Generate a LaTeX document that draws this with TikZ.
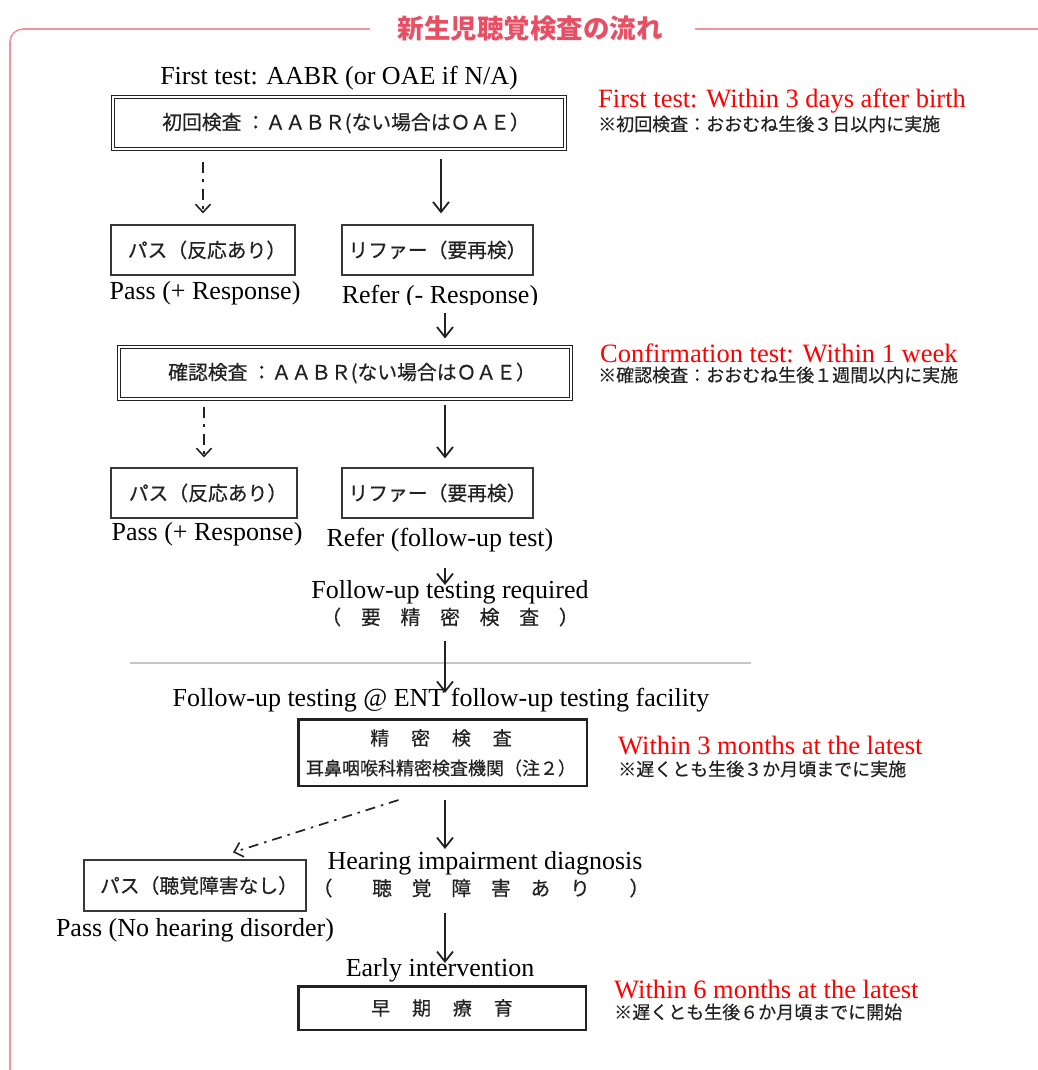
\documentclass[tikz,border=0pt]{standalone}
\usepackage{fontspec}
\setmainfont{Liberation Serif}
\newfontfamily\jp[FakeBold=0.5]{Noto Sans CJK JP}
\newfontfamily\jptitle{Noto Sans CJK JP}
\usetikzlibrary{arrows.meta,calc}
\definecolor{framepink}{HTML}{F2939D}
\definecolor{titlepink}{HTML}{E94F64}
\definecolor{ink}{HTML}{222222}
\newcommand{\jsp}{\hspace{1.15em}}
\tikzset{
  en/.style={font=\fontsize{26}{28}\selectfont, inner sep=0pt, text=black},
  redtxt/.style={font=\fontsize{26.5}{28}\selectfont, inner sep=0pt, text=red, anchor=west},
  jpt/.style={font=\jp\fontsize{19.8}{21}\selectfont, inner sep=0pt, text=ink},
  note/.style={font=\jp\fontsize{18}{19}\selectfont, inner sep=0pt, text=ink, anchor=west},
  dbox/.style={draw=ink, double, double distance=1.8pt, line width=1.1pt, minimum width=452pt, minimum height=52pt, inner sep=0pt},
  sbox/.style={draw=ink!90, line width=1.2pt, minimum height=50pt, inner sep=0pt},
  tbox/.style={draw=ink, line width=2.5pt, inner sep=0pt},
  arr/.style={-{Straight Barb[length=10pt,width=16pt,line width=1.8pt]}, line width=1.8pt, draw=ink},
  dsh/.style={-{Straight Barb[length=8pt,width=15pt,line width=1.6pt]}, line width=1.7pt, draw=ink, dash pattern=on 11pt off 6pt on 3pt off 7pt},
}
\begin{document}
\begin{tikzpicture}[x=1pt,y=-1pt]
\useasboundingbox (0,0) rectangle (1037,1070);
% frame and title
\node[font=\jptitle\bfseries\fontsize{26.5}{28}\selectfont, text=titlepink, inner sep=0pt] (title) at (530,29) {新生児聴覚検査の流れ};
\draw[framepink, line width=1.6pt, rounded corners=13pt] (370,29) -- (10,29) -- (10,1072);
\draw[framepink, line width=1.6pt] (695,29) -- (1039,29);
\coordinate (spine) at (445,0);

% first test
\node[en] (lab1) at (339,78) {First test: AABR (or OAE if N/A)};
\node[dbox, jpt] (box1) at (339,123) {\hspace{14pt}初回検査 ：ＡＡＢＲ(ない場合はＯＡＥ）};
\node[redtxt] (red1) at (598,101) {First test: Within 3 days after birth};
\node[note] (note1) at (598,124) {※初回検査：おおむね生後３日以内に実施};

\node[sbox, jpt, minimum width=184pt] (pass1) at (203,250) {\hspace{8pt}パス（反応あり）};
\node[sbox, jpt, minimum width=191pt] (refer1) at (437.5,250) {リファー（要再検）};
\node[en] (lpass1) at (205,293) {Pass (+ Response)};
\begin{scope}
\clip (300,270) rectangle (600,304);
\node[en] (lrefer1) at (440,297) {Refer (- Response)};
\end{scope}
\draw[dsh, shorten <=12pt, shorten >=11pt] (box1.south -| pass1.north) -- (pass1.north);
\draw[arr, shorten <=9pt, shorten >=11pt] ([xshift=3.5pt]box1.south -| refer1.north) -- ([xshift=3.5pt]refer1.north);

% confirmation test
\node[dbox, jpt] (box2) at (345,373) {\hspace{14pt}確認検査 ：ＡＡＢＲ(ない場合はＯＡＥ）};
\node[redtxt] (red2) at (600,353) {Confirmation test: Within 1 week};
\node[note] (note2) at (598,375) {※確認検査：おおむね生後１週間以内に実施};
\draw[arr, shorten >=8pt] (spine |- 0,313) -- (spine |- box2.north);

\node[sbox, jpt, minimum width=186pt] (pass2) at (204,493) {\hspace{8pt}パス（反応あり）};
\node[sbox, jpt, minimum width=191pt] (refer2) at (437.5,493) {リファー（要再検）};
\node[en] (lpass2) at (207,534) {Pass (+ Response)};
\node[en] (lrefer2) at (440,540) {Refer (follow-up test)};
\draw[dsh, shorten <=7pt, shorten >=10pt] (box2.south -| pass2.north) -- (pass2.north);
\draw[arr, shorten <=5pt, shorten >=9pt] (box2.south -| spine) -- (refer2.north -| spine);

% follow-up required
\node[en] (req1) at (450,592) {Follow-up testing required};
\node[jpt] (req2) at (450,617) {（　要　精　密　検　査　）};
\draw[arr, shorten <=16pt, shorten >=-5pt] (lrefer2.south -| spine) -- (req1.north -| spine);
\draw[gray!45, line width=1.6pt] (130,663) -- (751,663);
\node[en] (ent) at (441,700) {Follow-up testing @ ENT follow-up testing facility};
\draw[arr, shorten <=14pt, shorten >=-5pt] (req2.south -| spine) -- (ent.north -| spine);

% detailed test
\node[tbox, minimum width=288.5pt, minimum height=66.5pt] (box3) at (442.5,752.5) {};
\node[jpt, font=\jp\fontsize{19}{20}\selectfont] (box3a) at (441,738) {精\jsp 密\jsp 検\jsp 査};
\node[jpt, font=\jp\fontsize{18}{19}\selectfont] (box3b) at (441,768) {耳鼻咽喉科精密検査機関（注２）};
\node[redtxt] (red3) at (618,745) {Within 3 months at the latest};
\node[note] (note3) at (618,769) {※遅くとも生後３か月頃までに実施};

\node[sbox, jpt, minimum width=222pt, minimum height=51pt] (pass3) at (195,885.5) {\hspace{8pt}パス（聴覚障害なし）};
\node[en] (lpass3) at (195,930) {Pass (No hearing disorder)};
\node[en] (diag) at (485,863) {Hearing impairment diagnosis};
\node[jpt] (diag2) at (481,888) {（　　聴　覚　障　害　あ　り　　）};
\draw[arr, shorten <=13pt, shorten >=2pt] (box3.south -| spine) -- (diag.north -| spine);
\draw[dsh, dash pattern=on 10pt off 6pt on 2.5pt off 6pt] ($(box3.south)+(-44,13)$) -- ($(pass3.north)+(38,-7)$);

% early intervention
\node[en] (early) at (440,970) {Early intervention};
\node[tbox, jpt, font=\jp\fontsize{19}{20}\selectfont, minimum width=287.5pt, minimum height=43.5pt] (box4) at (442,1008) {早\jsp 期\jsp 療\jsp 育};
\node[redtxt] (red4) at (614,989) {Within 6 months at the latest};
\node[note] (note4) at (614,1012) {※遅くとも生後６か月頃までに開始};
\draw[arr, shorten <=15pt, shorten >=-5pt] (diag2.south -| spine) -- (early.north -| spine);
\end{tikzpicture}
\end{document}
